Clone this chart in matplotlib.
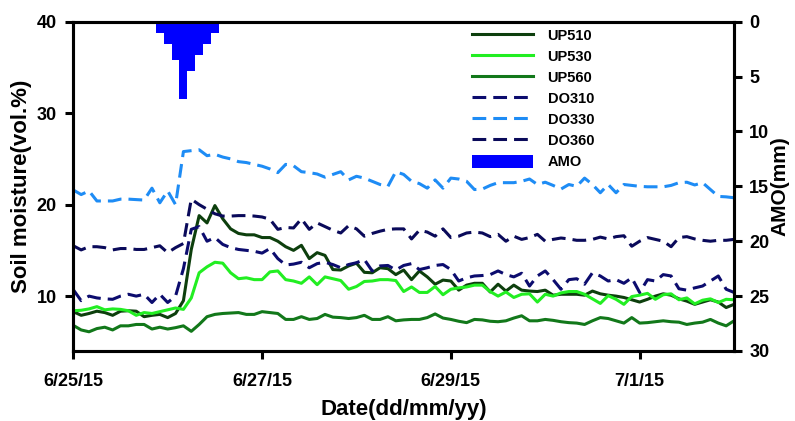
import numpy as np
import pandas as pd
import matplotlib
matplotlib.use('Agg')
import matplotlib.pyplot as plt
import matplotlib.dates as mdates
from matplotlib.patches import Patch

plt.rcParams['font.family'] = ['Liberation Sans', 'DejaVu Sans']
plt.rcParams['font.weight'] = 'bold'

# 2-hourly readings, 6/25/15 00:00 to 7/2/15 00:00
times = pd.date_range('2015-06-25 00:00', periods=85, freq='2h')

up510 = [8.3, 7.9, 8.1, 8.35, 8.2, 7.9, 8.35, 8.4, 8.35, 7.75, 7.9, 8.0, 7.65, 8.1, 9.5,
         15.1, 18.8, 18.0, 19.9, 18.45, 17.35, 16.85, 16.7, 16.7, 16.4, 16.4, 16.0, 15.4, 15.0,
         15.55, 14.1, 14.75, 14.45, 12.9, 12.85, 13.3, 13.6, 12.6, 12.55, 13.1, 13.0, 12.35, 12.85,
         11.8, 12.75, 12.1, 11.3, 11.75, 11.65, 10.65, 11.2, 11.4, 11.4, 10.45, 11.3, 10.55, 11.2,
         10.65, 10.55, 10.5, 10.65, 10.1, 10.2, 10.2, 10.2, 10.1, 10.55, 10.25, 10.1, 10.0, 9.85,
         9.6, 9.35, 9.65, 10.0, 10.25, 10.1, 9.7, 9.45, 9.1, 9.35, 9.6, 9.35, 8.75, 9.1]
up530 = [8.4, 8.45, 8.6, 8.85, 8.5, 8.6, 8.55, 8.4, 7.9, 8.2, 8.1, 8.3, 8.5, 8.7, 8.55,
         9.8, 12.55, 13.2, 13.7, 13.6, 12.55, 11.9, 12.0, 11.8, 11.8, 12.65, 12.75, 11.8, 11.65,
         11.4, 12.1, 11.25, 12.1, 11.9, 11.7, 10.75, 11.05, 11.6, 11.65, 11.8, 11.8, 11.7, 10.5,
         11.0, 10.4, 10.4, 11.05, 10.15, 10.75, 10.9, 11.0, 11.2, 11.2, 10.5, 10.0, 10.45, 9.85,
         10.2, 10.25, 9.35, 10.2, 10.0, 10.35, 10.5, 10.5, 10.2, 9.7, 9.2, 10.05, 9.65, 9.1,
         9.95, 10.1, 10.3, 9.65, 10.15, 10.25, 9.6, 9.8, 9.15, 9.55, 9.7, 9.3, 9.65, 9.6]
up560 = [6.8, 6.3, 6.1, 6.45, 6.6, 6.3, 6.75, 6.75, 6.9, 6.9, 6.4, 6.6, 6.4, 6.55, 6.75,
         6.15, 6.9, 7.75, 8.0, 8.1, 8.15, 8.2, 8.0, 8.0, 8.3, 8.2, 8.1, 7.45, 7.45,
         7.75, 7.45, 7.55, 8.0, 7.7, 7.65, 7.55, 7.65, 7.9, 7.45, 7.45, 7.75, 7.3, 7.4,
         7.45, 7.45, 7.65, 8.05, 7.6, 7.45, 7.25, 7.1, 7.45, 7.4, 7.25, 7.2, 7.3, 7.6,
         7.85, 7.3, 7.3, 7.45, 7.35, 7.2, 7.1, 7.05, 6.9, 7.3, 7.65, 7.55, 7.3, 7.05,
         7.65, 7.05, 7.1, 7.2, 7.3, 7.2, 7.15, 6.9, 7.05, 7.15, 7.45, 7.05, 6.75, 7.3]
do310 = [10.7, 9.5, 10.0, 9.8, 9.7, 9.65, 10.0, 10.2, 10.0, 10.2, 9.3, 10.2, 9.3, 10.0, 13.0,
         17.3, 17.6, 16.0, 16.4, 15.65, 15.3, 15.1, 15.0, 14.9, 14.7, 15.2, 14.1, 13.4, 13.5,
         13.7, 13.1, 13.55, 13.7, 13.45, 13.1, 13.45, 13.65, 14.0, 12.75, 13.3, 13.35, 12.85, 13.35,
         13.55, 12.9, 13.1, 13.35, 13.45, 12.9, 11.65, 12.0, 12.2, 12.25, 12.35, 12.75, 12.35, 12.1,
         12.5, 11.1, 12.2, 12.75, 11.8, 10.75, 11.8, 11.9, 11.3, 12.55, 12.2, 11.65, 11.8, 11.4,
         12.0, 10.4, 11.8, 11.65, 12.35, 12.2, 10.8, 10.65, 10.9, 11.1, 11.65, 12.2, 10.75, 10.4]
do330 = [21.6, 21.1, 21.5, 20.4, 20.4, 20.4, 20.6, 20.6, 20.55, 20.5, 21.8, 20.2, 21.5, 20.0, 25.8,
         25.9, 26.0, 25.35, 25.5, 25.2, 25.0, 24.7, 24.6, 24.4, 24.2, 23.9, 23.5, 24.4, 24.25,
         23.6, 23.5, 23.35, 23.0, 23.3, 23.6, 22.7, 23.1, 22.9, 22.55, 22.2, 22.0, 23.6, 23.3,
         22.55, 22.3, 21.8, 22.7, 21.8, 22.9, 22.8, 22.55, 21.65, 21.7, 22.1, 22.4, 22.4, 22.4,
         22.55, 22.8, 22.2, 22.45, 22.1, 21.7, 22.2, 22.0, 22.9, 22.2, 21.3, 22.2, 21.3, 22.2,
         22.1, 22.0, 21.95, 21.95, 21.95, 22.1, 22.4, 22.45, 22.15, 22.4, 21.65, 20.9, 20.85, 20.75]
do360 = [15.5, 15.05, 15.4, 15.4, 15.3, 15.05, 15.2, 15.2, 15.1, 15.1, 15.3, 15.5, 14.75, 15.3, 15.75,
         20.6, 20.0, 19.5, 19.0, 18.75, 18.75, 18.8, 18.8, 18.75, 18.65, 18.4, 17.3, 17.5, 17.45,
         18.45, 17.3, 18.0, 17.6, 17.2, 16.9, 17.7, 17.35, 16.55, 16.85, 17.1, 17.3, 17.35, 17.35,
         16.25, 17.2, 17.0, 16.55, 17.35, 16.4, 16.55, 16.9, 17.0, 16.9, 16.5, 16.75, 16.0, 16.55,
         16.2, 16.4, 16.75, 16.0, 16.2, 16.35, 16.25, 16.1, 16.1, 16.2, 16.45, 16.25, 16.5, 16.6,
         15.45, 16.0, 16.4, 16.2, 16.0, 15.4, 16.4, 16.5, 16.25, 16.1, 16.0, 16.1, 16.1, 16.2]

# rainfall (AMO) in 2 h steps
amo_times = pd.date_range('2015-06-25 22:00', periods=8, freq='2h')
amo_mm = [1.0, 2.0, 3.5, 7.0, 4.45, 3.0, 2.0, 1.0]

tick_dates = pd.to_datetime(['2015-06-25', '2015-06-27', '2015-06-29', '2015-07-01'])
tick_labels = ['6/25/15', '6/27/15', '6/29/15', '7/1/15']

series = [
    ('UP510', up510, '#0d3f0d', '-'),
    ('UP530', up530, '#22ee22', '-'),
    ('UP560', up560, '#12781a', '-'),
    ('DO310', do310, '#0c0c6e', '--'),
    ('DO330', do330, '#1e8cf5', '--'),
    ('DO360', do360, '#0a0a5a', '--'),
]

fig = plt.figure(figsize=(7.95, 4.21), dpi=100)
ax = fig.add_axes([0.0922, 0.1663, 0.8311, 0.7822])

handles = []
for name, vals, col, ls in series:
    if ls == '--':
        ln, = ax.plot(times, vals, color=col, lw=2.2, dashes=(4.5, 2.3), label=name)
    else:
        ln, = ax.plot(times, vals, color=col, lw=2.2, label=name)
    handles.append(ln)

ax.set_xlim(pd.Timestamp('2015-06-25'), pd.Timestamp('2015-07-02'))
ax.set_ylim(4, 40)
ax.set_yticks([10, 20, 30, 40])
ax.set_xticks(mdates.date2num(tick_dates))
ax.set_xticklabels(tick_labels)

ax2 = ax.twinx()
ax2.bar(amo_times, amo_mm, width=pd.Timedelta(hours=2), color='#0000ff', align='center', linewidth=0)
ax2.set_ylim(30, 0)
ax2.set_yticks([0, 5, 10, 15, 20, 25, 30])

for a in (ax, ax2):
    for sp in a.spines.values():
        sp.set_linewidth(2.2)
    a.tick_params(width=2.2, length=6, labelsize=13)
ax.tick_params(axis='x', pad=10)
ax.tick_params(axis='y', pad=6)
ax2.tick_params(axis='y', pad=5)

ax.set_ylabel('Soil moisture(vol.%)', fontsize=16, fontweight='bold', labelpad=3)
ax.set_xlabel('Date(dd/mm/yy)', fontsize=16, fontweight='bold', labelpad=6)
ax2.set_ylabel('AMO(mm)', fontsize=15, fontweight='bold', labelpad=1)

handles.append(Patch(facecolor='#0000ff', edgecolor='none', label='AMO'))
leg = ax2.legend(handles=handles, loc='upper left', bbox_to_anchor=(0.603, 0.98),
                 frameon=False, fontsize=10.5, handlelength=4.2, handletextpad=1.0,
                 handleheight=1.0, labelspacing=0.45, borderpad=0, borderaxespad=0)

fig.savefig('out.png', dpi=100)
